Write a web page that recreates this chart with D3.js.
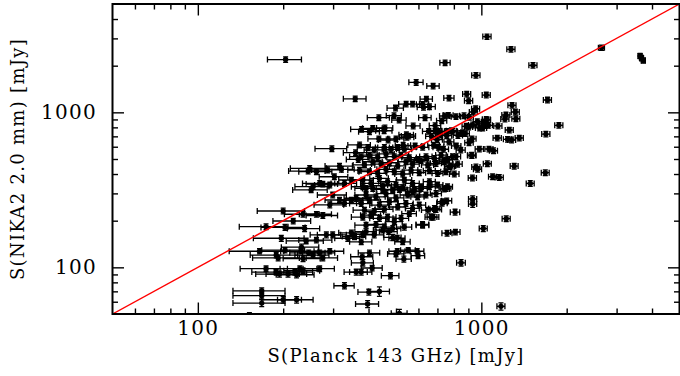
<!DOCTYPE html>
<html>
<head>
<meta charset="utf-8">
<script src="https://cdn.jsdelivr.net/npm/d3@7"></script>
<style>
  html, body { margin: 0; padding: 0; background: #fff; }
  svg { display: block; }
</style>
</head>
<body>
<svg id="chart" width="680" height="376"></svg>
<script>
// S(Planck 143 GHz) [mJy]
const planck = [
  1047, 204, 745, 957, 589, 676, 359, 640, 769, 888,
  902, 1041, 498, 572, 621, 625, 492, 435, 513, 633,
  742, 765, 814, 869, 725, 907, 937, 955, 1041, 403,
  454, 457, 575, 687, 709, 784, 859, 876, 902, 1138,
  544, 546, 297, 984, 1064, 1272, 1521, 2653, 3630, 3673,
  3727, 1711, 543, 1283, 1318, 1324, 1221, 1211, 1044, 986,
  1011, 1033, 1059, 1144, 1255, 1877, 1689, 1237, 1279, 1361,
  927, 848, 1104, 924, 656, 414, 378, 554, 651, 694,
  885, 932, 968, 1016, 757, 792, 719, 755, 827, 667,
  698, 435, 469, 500, 530, 535, 584, 621, 679, 706,
  735, 769, 816, 846, 905, 927, 1050, 1306, 1488, 1681,
  930, 1096, 1157, 970, 957, 772, 741, 814, 932, 932,
  808, 1224, 1016, 620, 757, 810, 692, 676, 755, 727,
  848, 478, 437, 401, 397, 1173, 514, 412, 382, 377,
  403, 380, 505, 552, 594, 598, 500, 533, 471, 487,
  505, 528, 382, 377, 200, 174, 203, 238, 217, 235,
  276, 262, 292, 299, 316, 329, 348, 362, 251, 255,
  292, 197, 284, 299, 262, 241, 348, 338, 357, 165,
  189, 192, 203, 232, 231, 235, 246, 255, 269, 276,
  292, 174, 189, 194, 208, 220, 223, 229, 235, 269,
  168, 168, 168, 200, 223, 329, 362, 152, 360, 248,
  245, 262, 287, 316, 321, 303, 269, 276, 329, 348,
  368, 372, 398, 419, 455, 480, 507, 377, 403, 431,
  461, 493, 521, 557, 596, 638, 683, 721, 760, 791,
  387, 414, 443, 474, 507, 542, 572, 613, 647, 692,
  740, 781, 825, 372, 403, 431, 461, 493, 528, 565,
  604, 656, 701, 750, 803, 382, 408, 437, 467, 500,
  535, 572, 613, 656, 701, 750, 392, 449, 514, 580,
  382, 414, 449, 487, 528, 572, 613, 656, 740, 760,
  392, 425, 461, 500, 550, 596, 638, 692, 377, 403,
  437, 474, 507, 542, 572, 604, 647, 683, 730, 387,
  419, 455, 382, 408, 437, 467, 493, 521, 557, 621,
  665, 392, 425, 455, 487, 535, 392, 419, 449
];
const planckErr = [
  35, 28, 31, 32, 34, 34, 33, 32, 32, 29,
  30, 34, 33, 33, 31, 31, 30, 39, 30, 32,
  30, 30, 31, 31, 30, 30, 30, 31, 33, 34,
  30, 30, 33, 32, 32, 32, 31, 31, 30, 38,
  32, 32, 38, 33, 35, 42, 50, 65, 60, 60,
  62, 56, 32, 42, 43, 43, 40, 40, 34, 33,
  33, 34, 35, 38, 41, 62, 56, 41, 42, 45,
  31, 30, 36, 31, 32, 33, 32, 32, 31, 31,
  30, 31, 32, 33, 31, 31, 31, 31, 31, 31,
  31, 37, 36, 33, 33, 33, 33, 32, 32, 31,
  31, 31, 31, 31, 31, 31, 34, 42, 48, 54,
  31, 36, 38, 32, 32, 31, 31, 31, 31, 31,
  31, 40, 33, 32, 31, 31, 32, 32, 31, 31,
  30, 34, 37, 34, 37, 38, 33, 35, 34, 34,
  35, 34, 33, 33, 33, 33, 33, 33, 34, 34,
  33, 33, 34, 34, 38, 34, 36, 31, 33, 33,
  35, 34, 35, 35, 35, 34, 34, 34, 35, 35,
  34, 40, 35, 35, 35, 36, 34, 34, 34, 36,
  36, 36, 35, 35, 35, 35, 35, 35, 35, 35,
  35, 33, 34, 34, 34, 34, 34, 34, 34, 34,
  35, 35, 35, 32, 32, 27, 34, 34, 34, 36,
  36, 35, 35, 35, 35, 35, 35, 35, 34, 34,
  34, 34, 33, 33, 32, 33, 33, 34, 33, 33,
  32, 33, 33, 33, 32, 32, 31, 31, 31, 31,
  34, 33, 33, 33, 33, 33, 32, 32, 32, 31,
  31, 31, 31, 34, 33, 33, 33, 33, 33, 32,
  32, 32, 31, 31, 31, 34, 33, 33, 33, 33,
  33, 32, 32, 32, 31, 31, 34, 33, 33, 32,
  34, 33, 33, 33, 33, 32, 32, 32, 31, 31,
  34, 33, 33, 33, 33, 32, 32, 31, 34, 33,
  33, 33, 33, 33, 32, 32, 32, 31, 31, 34,
  33, 33, 34, 33, 33, 33, 33, 33, 33, 32,
  32, 34, 33, 33, 33, 33, 34, 33, 33
];
// S(NIKA2 2.0 mm) [mJy]
const nika = [
  3080, 2190, 2090, 1733, 1561, 1479, 1223, 1218, 1236, 1312,
  1189, 1293, 1066, 1131, 1127, 1077, 951, 924, 892, 924,
  947, 957, 938, 951, 883, 928, 1005, 1055, 901, 750,
  761, 793, 817, 821, 754, 761, 739, 730, 805, 683,
  717, 690, 583, 580, 580, 2549, 2010, 2611, 2310, 2240,
  2160, 1201, 1131, 1110, 1005, 909, 961, 905, 892, 793,
  793, 821, 825, 817, 769, 825, 724, 670, 663, 683,
  675, 731, 565, 529, 1087, 789, 777, 703, 754, 761,
  813, 829, 870, 853, 754, 754, 714, 707, 710, 700,
  666, 675, 663, 675, 613, 578, 607, 595, 613, 595,
  578, 644, 607, 571, 637, 526, 466, 450, 348, 408,
  377, 384, 380, 429, 444, 446, 493, 518, 276, 256,
  227, 206, 178, 189, 166, 169, 236, 211, 269, 259,
  107, 88.3, 69.9, 69.2, 58.0, 56.0, 50.5, 99.0, 107, 93.2,
  124, 117, 127, 129, 127, 119, 122, 113, 170, 156,
  154, 146, 163, 146, 231, 183, 181, 178, 199, 220,
  216, 220, 253, 293, 272, 259, 272, 279, 316, 332,
  340, 154, 162, 162, 150, 148, 167, 154, 158, 127,
  120, 115, 129, 135, 127, 114, 124, 120, 124, 115,
  127, 98.0, 93.2, 90.5, 90.5, 93.2, 89.6, 98.0, 95.1, 98.0,
  70.6, 65.6, 58.8, 61.8, 61.8, 76.1, 93.2, 48.0, 549, 435,
  418, 414, 425, 450, 429, 384, 348, 345, 348, 366,
  497, 616, 594, 572, 594, 576, 594, 518, 530, 511,
  539, 518, 530, 511, 496, 518, 504, 530, 493, 518,
  458, 480, 464, 473, 451, 480, 464, 488, 458, 469,
  480, 451, 464, 424, 414, 404, 429, 414, 400, 424,
  408, 420, 404, 414, 400, 366, 348, 375, 357, 340,
  366, 348, 331, 357, 340, 323, 323, 318, 318, 315,
  331, 323, 336, 316, 326, 308, 323, 331, 320, 331,
  293, 285, 299, 281, 293, 285, 293, 299, 258, 272,
  252, 265, 245, 258, 240, 252, 234, 240, 265, 234,
  229, 237, 211, 217, 207, 211, 197, 207, 222, 187,
  211, 187, 189, 182, 178, 182, 170, 162, 174
];
const nikaErr = [
  120, 90, 85, 70, 65, 60, 50, 50, 50, 55,
  50, 55, 45, 45, 45, 45, 40, 40, 36, 38,
  40, 40, 38, 40, 36, 38, 42, 44, 38, 32,
  32, 33, 34, 34, 32, 32, 31, 30, 34, 28,
  30, 29, 25, 24, 24, 100, 80, 100, 90, 90,
  85, 50, 46, 45, 42, 38, 40, 38, 37, 33,
  33, 34, 34, 34, 32, 34, 30, 28, 28, 28,
  28, 30, 24, 22, 45, 33, 32, 29, 31, 32,
  34, 35, 36, 35, 31, 31, 30, 29, 30, 29,
  28, 28, 28, 28, 26, 24, 25, 25, 26, 25,
  24, 27, 25, 24, 27, 22, 20, 19, 15, 17,
  16, 16, 16, 18, 19, 19, 21, 22, 13, 12,
  10, 9, 8, 8, 7, 7, 10, 9, 11, 11,
  5, 4, 5, 3, 3, 3, 3, 4, 5, 4,
  5, 5, 5, 5, 5, 5, 5, 5, 7, 7,
  7, 6, 7, 6, 10, 8, 8, 8, 8, 9,
  9, 9, 11, 12, 11, 11, 11, 12, 13, 14,
  14, 7, 7, 7, 6, 6, 7, 7, 7, 5,
  5, 5, 5, 6, 5, 5, 5, 5, 5, 5,
  5, 4, 4, 4, 4, 4, 4, 4, 4, 4,
  3, 3, 3, 3, 3, 3.5, 4, 3, 23, 18,
  17, 17, 18, 19, 18, 16, 15, 14, 15, 15,
  21, 26, 25, 24, 25, 24, 25, 22, 22, 21,
  23, 22, 22, 21, 21, 22, 21, 22, 21, 22,
  19, 20, 20, 20, 19, 20, 20, 20, 19, 20,
  20, 19, 20, 18, 17, 17, 18, 17, 17, 18,
  17, 18, 17, 17, 17, 15, 15, 16, 15, 14,
  15, 15, 14, 15, 14, 14, 14, 13, 13, 13,
  14, 14, 14, 13, 14, 13, 14, 14, 13, 14,
  12, 12, 13, 12, 12, 12, 12, 13, 11, 11,
  11, 11, 10, 11, 10, 11, 10, 10, 11, 10,
  10, 10, 9, 9, 9, 9, 8, 9, 9, 8,
  9, 8, 8, 8, 8, 8, 7, 7, 7
];

const fluxDomain = [50, 5000];
const majorTicks = [100, 1000];
const minorTicks = [60, 70, 80, 90, 200, 300, 400, 500, 600, 700, 800, 900, 2000, 3000, 4000];
const xTitle = 'S(Planck 143 GHz) [mJy]';
const yTitle = 'S(NIKA2 2.0 mm) [mJy]';

const width = 680;
const height = 376;
const plot = { left: 112.5, right: 679.5, top: 4, bottom: 314 };
const fontFamily = '"DejaVu Serif", serif';

const x = d3.scaleLog().domain(fluxDomain).range([plot.left, plot.right]);
const y = d3.scaleLog().domain(fluxDomain).range([plot.bottom, plot.top]);

const svg = d3.select('#chart');
svg.append('rect').attr('width', width).attr('height', height).attr('fill', '#fff');

svg.append('clipPath').attr('id', 'clip')
  .append('rect')
  .attr('x', plot.left).attr('y', plot.top)
  .attr('width', plot.right - plot.left).attr('height', plot.bottom - plot.top);

// axis helper: ticks inward, no domain line (frame drawn separately)
function customAxis(sel, axis) {
  sel.call(axis);
  sel.select('.domain').remove();
  sel.attr('font-family', fontFamily).attr('font-size', 20);
  sel.selectAll('.tick line').attr('stroke', '#000').attr('stroke-width', 1.4);
  sel.selectAll('.tick text').attr('fill', '#000').attr('letter-spacing', 1.3);
}

const majLen = 11.5;
const minLen = 5.5;

// bottom
svg.append('g').attr('transform', `translate(0,${plot.bottom})`)
  .call(customAxis, d3.axisBottom(x).tickValues(minorTicks).tickSizeInner(-minLen).tickSizeOuter(0).tickFormat(''));
svg.append('g').attr('transform', `translate(0,${plot.bottom})`)
  .call(customAxis, d3.axisBottom(x).tickValues(majorTicks).tickSizeInner(-majLen).tickSizeOuter(0)
    .tickPadding(7).tickFormat(d3.format('d')));

// top
svg.append('g').attr('transform', `translate(0,${plot.top})`)
  .call(customAxis, d3.axisTop(x).tickValues(minorTicks).tickSizeInner(-minLen).tickSizeOuter(0).tickFormat(''));
svg.append('g').attr('transform', `translate(0,${plot.top})`)
  .call(customAxis, d3.axisTop(x).tickValues(majorTicks).tickSizeInner(-majLen).tickSizeOuter(0).tickFormat(''));

// left
svg.append('g').attr('transform', `translate(${plot.left},0)`)
  .call(customAxis, d3.axisLeft(y).tickValues(minorTicks).tickSizeInner(-minLen).tickSizeOuter(0).tickFormat(''));
svg.append('g').attr('transform', `translate(${plot.left},0)`)
  .call(customAxis, d3.axisLeft(y).tickValues(majorTicks).tickSizeInner(-majLen).tickSizeOuter(0)
    .tickPadding(15.5).tickFormat(d3.format('d')));

// right
svg.append('g').attr('transform', `translate(${plot.right},0)`)
  .call(customAxis, d3.axisRight(y).tickValues(minorTicks).tickSizeInner(-minLen).tickSizeOuter(0).tickFormat(''));
svg.append('g').attr('transform', `translate(${plot.right},0)`)
  .call(customAxis, d3.axisRight(y).tickValues(majorTicks).tickSizeInner(-majLen).tickSizeOuter(0).tickFormat(''));

// data: error bars + dots
const idx = d3.range(planck.length);
const gData = svg.append('g').attr('clip-path', 'url(#clip)');
const barColor = '#000';
const capH = 3;
const capW = 2.5;

gData.selectAll('.xerr')
  .data(idx).enter().append('path')
  .attr('class', 'xerr')
  .attr('fill', 'none').attr('stroke', barColor).attr('stroke-width', 1.3)
  .attr('d', i => {
    const x0 = x(planck[i] - planckErr[i]);
    const x1 = x(planck[i] + planckErr[i]);
    const yy = y(nika[i]);
    return `M${x0},${yy}H${x1}M${x0},${yy - capH}V${yy + capH}M${x1},${yy - capH}V${yy + capH}`;
  });

gData.selectAll('.yerr')
  .data(idx).enter().append('path')
  .attr('class', 'yerr')
  .attr('fill', 'none').attr('stroke', barColor).attr('stroke-width', 1.3)
  .attr('d', i => {
    const xx = x(planck[i]);
    const y0 = y(nika[i] - nikaErr[i]);
    const y1 = y(nika[i] + nikaErr[i]);
    return `M${xx},${y0}V${y1}M${xx - capW},${y0}H${xx + capW}M${xx - capW},${y1}H${xx + capW}`;
  });

gData.selectAll('.dot')
  .data(idx).enter().append('circle')
  .attr('class', 'dot')
  .attr('cx', i => x(planck[i]))
  .attr('cy', i => y(nika[i]))
  .attr('r', 2.7)
  .attr('fill', '#000');

// 1:1 line
svg.append('path')
  .datum(fluxDomain)
  .attr('clip-path', 'url(#clip)')
  .attr('fill', 'none')
  .attr('stroke', '#ff0000')
  .attr('stroke-width', 1.4)
  .attr('d', d3.line().x(d => x(d)).y(d => y(d)));

// frame
svg.append('rect')
  .attr('x', plot.left).attr('y', plot.top)
  .attr('width', plot.right - plot.left).attr('height', plot.bottom - plot.top)
  .attr('fill', 'none').attr('stroke', '#000').attr('stroke-width', 2);

// titles
svg.append('text')
  .attr('x', (plot.left + plot.right) / 2)
  .attr('y', 362)
  .attr('text-anchor', 'middle')
  .attr('font-family', fontFamily).attr('font-size', 18).attr('letter-spacing', 1.3)
  .attr('fill', '#000')
  .text(xTitle);

svg.append('text')
  .attr('transform', `translate(24,${(plot.top + plot.bottom) / 2}) rotate(-90)`)
  .attr('text-anchor', 'middle')
  .attr('font-family', fontFamily).attr('font-size', 18).attr('letter-spacing', 1.3)
  .attr('fill', '#000')
  .text(yTitle);
</script>
</body>
</html>
